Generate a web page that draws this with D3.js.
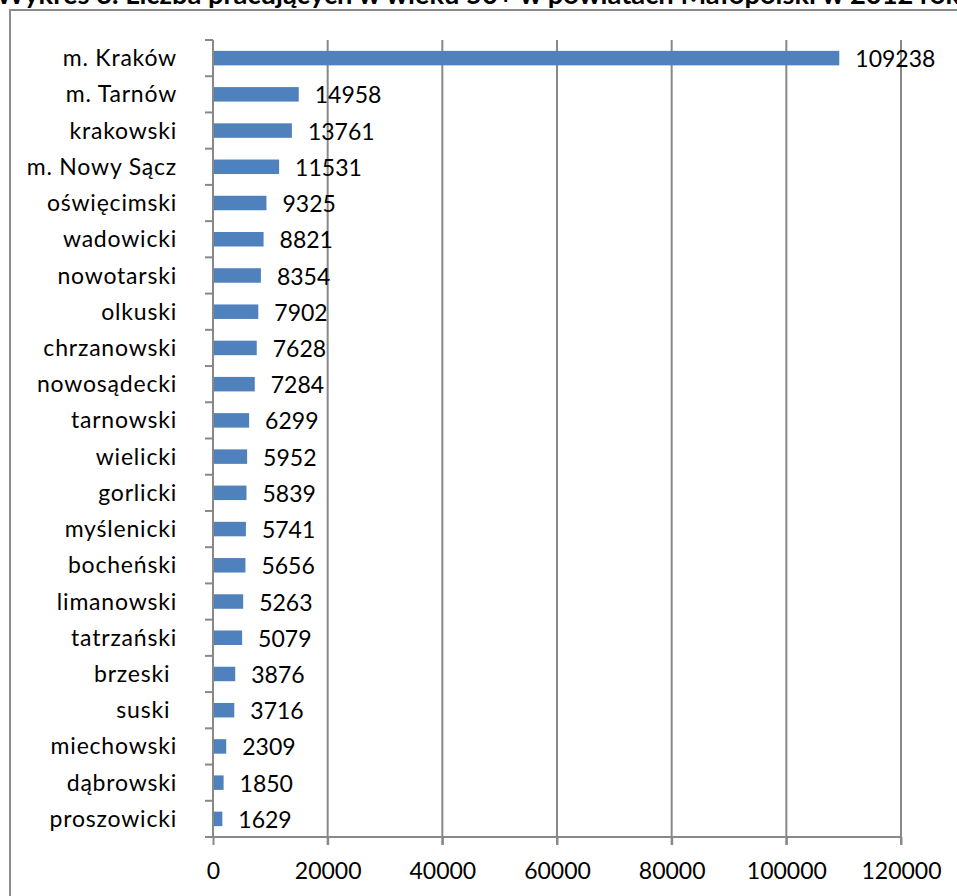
<!DOCTYPE html>
<html><head><meta charset="utf-8">
<script src="https://cdn.jsdelivr.net/npm/d3@7"></script>
<style>html,body{margin:0;padding:0;background:#fff;overflow:hidden}svg{display:block}</style>
</head><body>
<svg id="c" width="957" height="896"></svg>
<script>
const titleText = "Wykres 3. Liczba pracujących w wieku 50+ w powiatach Małopolski w 2012 roku";
const categories = ["m. Kraków","m. Tarnów","krakowski","m. Nowy Sącz","oświęcimski","wadowicki","nowotarski","olkuski","chrzanowski","nowosądecki","tarnowski","wielicki","gorlicki","myślenicki","bocheński","limanowski","tatrzański","brzeski ","suski ","miechowski","dąbrowski","proszowicki"];
const values = [109238,14958,13761,11531,9325,8821,8354,7902,7628,7284,6299,5952,5839,5741,5656,5263,5079,3876,3716,2309,1850,1629];
const xTicks = [0,20000,40000,60000,80000,100000,120000];

const svg = d3.select("#c");
const font = "Lato, 'Open Sans', sans-serif";
const L = 213, R = 901, T = 40, B = 837;

// outer frame (top & left visible)
svg.append("rect").attr("x",10).attr("y",10).attr("width",1000).attr("height",1000)
  .attr("fill","none").attr("stroke","#8c8c8c").attr("stroke-width",2);

// title (clipped at top and right, as in the source)
const title = svg.append("text").attr("y",4).attr("font-family",font).attr("font-weight","bold")
  .attr("font-size",21).attr("fill","#000").text(titleText);
const idx = titleText.indexOf("roku") + 2;
const pre0 = title.node().getSubStringLength(0, idx);
const fs = 21 * 950 / pre0;
title.attr("font-size", fs).attr("x", -4).attr("y", Math.round(fs*0.14));

const x = d3.scaleLinear().domain([0,120000]).range([L,R]);
const y = d3.scaleBand().domain(categories).range([T,B]).paddingInner(0.6).paddingOuter(0.3);

// gridlines
svg.append("g").selectAll("line").data(xTicks.slice(1)).join("line")
  .attr("x1",d=>x(d)).attr("x2",d=>x(d)).attr("y1",T).attr("y2",B+8)
  .attr("stroke","#888").attr("stroke-width",2);

// x axis
const xAxis = d3.axisBottom(x).tickValues(xTicks).tickSize(8).tickPadding(18).tickFormat(d3.format("d"));
const gx = svg.append("g").attr("transform",`translate(0,${B})`).call(xAxis);
gx.select(".domain").attr("d",`M${L-8},0H${R}`).attr("stroke","#888").attr("stroke-width",2);
gx.selectAll(".tick line").attr("stroke","#888").attr("stroke-width",2);
gx.selectAll("text").attr("font-family",font).attr("font-size",23).attr("fill","#000").attr("dy","0.71em");

// y axis with ticks at category boundaries
const step = (B - T) / categories.length;
const yTickPos = d3.range(categories.length).map(i => T + i*step);
svg.append("line").attr("x1",L).attr("x2",L).attr("y1",T).attr("y2",B).attr("stroke","#888").attr("stroke-width",2);
svg.append("g").selectAll("line").data(yTickPos).join("line")
  .attr("x1",L-8).attr("x2",L).attr("y1",d=>d).attr("y2",d=>d).attr("stroke","#888").attr("stroke-width",2);

// bars
svg.append("g").selectAll("rect").data(values).join("rect")
  .attr("x",x(0)+1).attr("y",(d,i)=>y(categories[i]))
  .attr("width",d=>x(d)-x(0)-1).attr("height",y.bandwidth())
  .attr("fill","#4f81bd");

// category labels
svg.append("g").selectAll("text").data(categories).join("text")
  .attr("x",177).attr("y",d=>y(d)+y.bandwidth()/2).attr("dy","0.35em")
  .attr("text-anchor","end").attr("font-family",font).attr("font-size",23)
  .attr("letter-spacing","0.8px").attr("fill","#000")
  .style("white-space","pre").text(d=>d);

// value labels
svg.append("g").selectAll("text").data(values).join("text")
  .attr("x",d=>x(d)+16).attr("y",(d,i)=>y(categories[i])+y.bandwidth()/2+1).attr("dy","0.35em")
  .attr("font-family",font).attr("font-size",23).attr("fill","#000").text(d=>d);
</script>
</body></html>
